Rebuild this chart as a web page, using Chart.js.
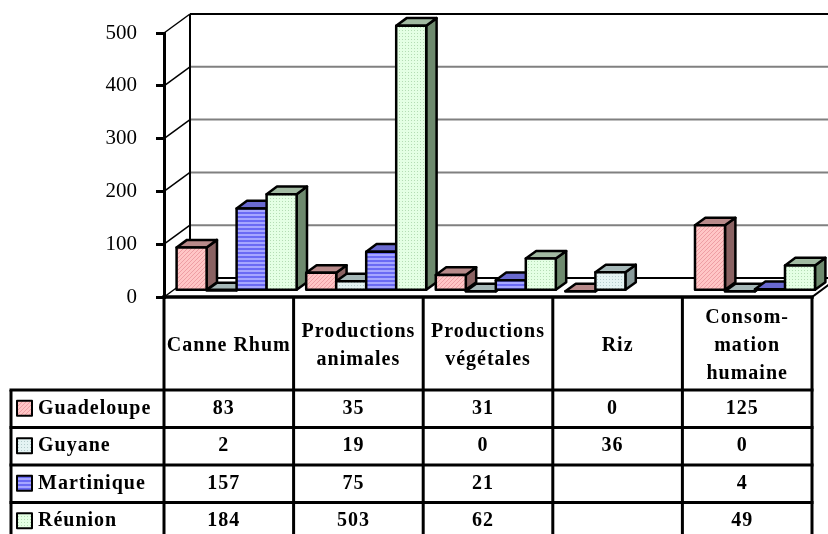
<!DOCTYPE html>
<html>
<head>
<meta charset="utf-8">
<script src="https://cdn.jsdelivr.net/npm/chart.js@4/dist/chart.umd.min.js"></script>
<style>
  html, body { margin: 0; padding: 0; background: #fff; }
  #wrap { width: 828px; height: 534px; }
</style>
</head>
<body>
<div id="wrap"><canvas id="c" width="828" height="534"></canvas></div>
<script>
// Categories (multi-line header labels for the data table)
const categories = [
  ['Canne Rhum'],
  ['Productions', 'animales'],
  ['Productions', 'végétales'],
  ['Riz'],
  ['Consom-', 'mation', 'humaine']
];
const seriesNames = ['Guadeloupe', 'Guyane', 'Martinique', 'Réunion'];
const guadeloupe = [83, 35, 31, 0, 125];
const guyane     = [2, 19, 0, 36, 0];
const martinique = [157, 75, 21, null, 4];
const reunion    = [184, 503, 62, null, 49];
const yTicks = [0, 100, 200, 300, 400, 500];

// 3D geometry
const DEPTH_X = 26, DEPTH_Y = -19;     // full floor depth
const BAR_FRONT = 0.3, BAR_DEPTH = 0.4; // bar placement within the depth
const SERIF = "'Liberation Serif', 'Times New Roman', serif";

// Fill styles per series: front pattern, top and side shades
const styles = [
  { base: '#FFC6C6', ink: '#EE9EA4', kind: 'diag',   top: '#B88A8A', side: '#8A6262' },
  { base: '#E4F3F3', ink: '#B4CCCC', kind: 'dots',   top: '#A6B8B8', side: '#889A9A' },
  { base: '#A6A6FF', ink: '#6A6AF4', kind: 'stripe', top: '#6A6AD0', side: '#4646A6' },
  { base: '#E4FFE4', ink: '#B4DCB4', kind: 'dots',   top: '#A2BAA2', side: '#6E8A6E' }
];

function makePattern(ctx, s) {
  const c = document.createElement('canvas');
  const g = c.getContext('2d');
  if (s.kind === 'diag') {
    c.width = 4; c.height = 4;
    g.fillStyle = s.base; g.fillRect(0, 0, 4, 4);
    g.fillStyle = s.ink;
    for (let i = 0; i < 4; i++) g.fillRect(i, 3 - i, 1, 1);
  } else if (s.kind === 'stripe') {
    c.width = 2; c.height = 4;
    g.fillStyle = s.base; g.fillRect(0, 0, 2, 4);
    g.fillStyle = s.ink; g.fillRect(0, 0, 2, 2);
  } else {
    c.width = 3; c.height = 3;
    g.fillStyle = s.base; g.fillRect(0, 0, 3, 3);
    g.fillStyle = s.ink; g.fillRect(0, 0, 1, 1);
  }
  return ctx.createPattern(c, 'repeat');
}

function line(ctx, x1, y1, x2, y2) {
  ctx.beginPath(); ctx.moveTo(x1, y1); ctx.lineTo(x2, y2); ctx.stroke();
}

function poly(ctx, pts, fill) {
  ctx.beginPath();
  ctx.moveTo(pts[0][0], pts[0][1]);
  for (let i = 1; i < pts.length; i++) ctx.lineTo(pts[i][0], pts[i][1]);
  ctx.closePath();
  ctx.fillStyle = fill; ctx.fill();
  ctx.stroke();
}

const frame3d = {
  id: 'frame3d',
  beforeDatasetsDraw(chart) {
    const { ctx, chartArea: a, scales: { y } } = chart;
    const bx = a.left + DEPTH_X;
    ctx.save();
    ctx.lineCap = 'butt';
    yTicks.forEach(v => {
      const py = y.getPixelForValue(v);
      ctx.strokeStyle = '#000'; ctx.lineWidth = 1.5;
      line(ctx, a.left, py, bx, py + DEPTH_Y);
      const edge = (v === 0 || v === y.max);
      ctx.strokeStyle = edge ? '#000' : '#808080';
      ctx.lineWidth = 2;
      line(ctx, bx, py + DEPTH_Y, chart.width, py + DEPTH_Y);
    });
    ctx.strokeStyle = '#000'; ctx.lineWidth = 2;
    line(ctx, bx, y.getPixelForValue(y.max) + DEPTH_Y, bx, y.getPixelForValue(0) + DEPTH_Y);
    ctx.restore();
  },
  afterDatasetsDraw(chart) {
    const { ctx, chartArea: a, scales: { x, y } } = chart;
    const fills = styles.map(s => makePattern(ctx, s));
    const ox = DEPTH_X * BAR_FRONT, oy = DEPTH_Y * BAR_FRONT;
    const dx = DEPTH_X * BAR_DEPTH, dy = DEPTH_Y * BAR_DEPTH;

    ctx.save();
    ctx.strokeStyle = '#000';
    ctx.lineWidth = 2.5;
    ctx.lineJoin = 'round';
    // 3D columns, left to right
    for (let i = 0; i < categories.length; i++) {
      chart.data.datasets.forEach((ds, si) => {
        if (ds.data[i] == null) return;
        const el = chart.getDatasetMeta(si).data[i];
        const L = el.x - el.width / 2 + ox, R = L + el.width;
        const T = el.y + oy, B = el.base + oy;
        const st = styles[si];
        poly(ctx, [[R, T], [R + dx, T + dy], [R + dx, B + dy], [R, B]], st.side);
        poly(ctx, [[L, T], [R, T], [R + dx, T + dy], [L + dx, T + dy]], st.top);
        poly(ctx, [[L, T], [R, T], [R, B], [L, B]], fills[si]);
      });
    }

    // front floor edge
    const y0 = y.getPixelForValue(0);
    ctx.lineWidth = 3.5; ctx.lineCap = 'square';
    line(ctx, a.left, y0, a.right, y0);
    ctx.lineWidth = 2;
    line(ctx, a.right, y0, a.right + DEPTH_X, y0 + DEPTH_Y);

    // data table
    const HEADER_H = 93, ROW_H = 37.5, TABLE_LEFT = 11;
    const catW = (a.right - a.left) / categories.length;
    const headBottom = y0 + HEADER_H;
    const bottom = headBottom + ROW_H * seriesNames.length;
    ctx.lineWidth = 3; ctx.lineCap = 'butt';
    for (let c = 0; c <= categories.length; c++) {
      const cx = a.left + c * catW;
      line(ctx, cx, y0, cx, bottom);
    }
    line(ctx, TABLE_LEFT, headBottom, TABLE_LEFT, bottom);
    for (let r = 0; r <= seriesNames.length; r++) {
      const ry = headBottom + r * ROW_H;
      line(ctx, TABLE_LEFT - 1.5, ry, a.right + 1.5, ry);
    }

    ctx.fillStyle = '#000';
    ctx.font = 'bold 20px ' + SERIF;
    ctx.textAlign = 'center';
    ctx.textBaseline = 'middle';
    if ('letterSpacing' in ctx) ctx.letterSpacing = '1px';
    const headMid = y0 + HEADER_H / 2 + 2;
    categories.forEach((lines, c) => {
      const cx = a.left + (c + 0.5) * catW;
      const lh = 28;
      lines.forEach((t, k) => {
        ctx.fillText(t, cx, headMid + (k - (lines.length - 1) / 2) * lh);
      });
    });

    seriesNames.forEach((name, r) => {
      const ry = headBottom + (r + 0.5) * ROW_H;
      // legend key
      ctx.fillStyle = fills[r];
      ctx.fillRect(17, ry - 8, 15, 15);
      ctx.lineWidth = 2;
      ctx.strokeRect(17, ry - 8, 15, 15);
      ctx.fillStyle = '#000';
      ctx.textAlign = 'left';
      ctx.fillText(name, 38, ry);
      ctx.textAlign = 'center';
      const vals = chart.data.datasets[r].data;
      vals.forEach((v, c) => {
        if (v == null) return;
        ctx.fillText(String(v), a.left + (c + 0.5) * catW - 5, ry);
      });
    });
    ctx.restore();
  }
};

const datasetsOf = [guadeloupe, guyane, martinique, reunion];

new Chart(document.getElementById('c'), {
  type: 'bar',
  data: {
    labels: categories.map(l => l.join(' ')),
    datasets: datasetsOf.map((d, i) => ({
      label: seriesNames[i],
      data: d,
      backgroundColor: 'rgba(0,0,0,0)',
      borderWidth: 0,
      categoryPercentage: 0.926,
      barPercentage: 1
    }))
  },
  options: {
    responsive: false,
    animation: false,
    devicePixelRatio: 1,
    layout: { padding: { left: 0, right: 16, top: 33, bottom: 237 } },
    plugins: { legend: { display: false }, tooltip: { enabled: false } },
    scales: {
      x: { display: false, offset: true },
      y: {
        min: 0, max: 500,
        afterFit(scale) { scale.width = 164; },
        ticks: {
          stepSize: 100,
          padding: 19,
          color: '#000',
          font: { family: SERIF, size: 21 }
        },
        grid: {
          drawOnChartArea: false,
          drawTicks: true,
          tickLength: 8,
          color: '#000',
          lineWidth: 3
        },
        border: { display: true, color: '#000', width: 3 }
      }
    }
  },
  plugins: [frame3d]
});
</script>
</body>
</html>
